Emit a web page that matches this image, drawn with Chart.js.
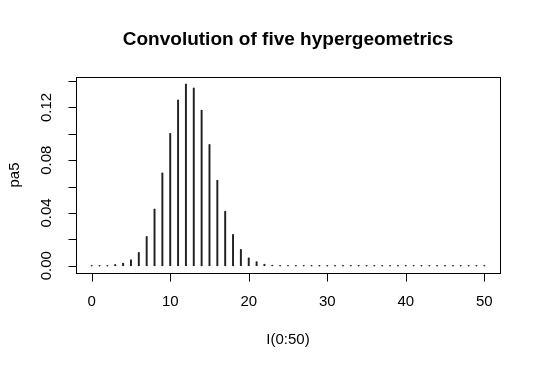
<!DOCTYPE html>
<html>
<head>
<meta charset="utf-8">
<script src="https://cdn.jsdelivr.net/npm/chart.js@4"></script>
<style>
  html, body { margin: 0; padding: 0; background: #fff; }
  canvas { display: block; }
</style>
</head>
<body>
<canvas id="c" width="540" height="368"></canvas>
<script>
// x = 0..50, pa5 values
const xValues = Array.from({length: 51}, (_, i) => i);
const pa5 = [
  0, 0, 0, 0.0007, 0.0018, 0.0043, 0.0099, 0.022, 0.0428, 0.0702,
  0.1001, 0.1255, 0.1376, 0.1346, 0.1178, 0.0917, 0.0646, 0.0411, 0.0236, 0.0122,
  0.0058, 0.0028, 0.001, 0.0003, 0, 0, 0, 0, 0, 0,
  0, 0, 0, 0, 0, 0, 0, 0, 0, 0,
  0, 0, 0, 0, 0, 0, 0, 0, 0, 0,
  0
];
const xTicks = [0, 10, 20, 30, 40, 50];
const yTicks = [0, 0.02, 0.04, 0.06, 0.08, 0.10, 0.12, 0.14];
const yTickLabels = ['0.00', '', '0.04', '', '0.08', '', '0.12', ''];

const chartTitle = 'Convolution of five hypergeometrics';
const xTitle = 'I(0:50)';
const yTitle = 'pa5';

const points = xValues.map((x, i) => ({x: x, y: pa5[i]}));

// R 風格的座標軸、外框與標題
const rAxes = {
  id: 'rAxes',
  afterDraw(chart) {
    const ctx = chart.ctx;
    const a = chart.chartArea;
    const xs = chart.scales.x, ys = chart.scales.y;
    ctx.save();
    ctx.strokeStyle = '#000';
    ctx.lineWidth = 1;
    ctx.strokeRect(Math.round(a.left) + 0.5, Math.round(a.top) + 0.5,
                   Math.round(a.right - a.left), Math.round(a.bottom - a.top));

    ctx.fillStyle = '#000';
    ctx.font = '15px "Liberation Sans", Arial, sans-serif';

    // x axis
    ctx.beginPath();
    const x0 = Math.round(xs.getPixelForValue(xTicks[0])) + 0.5;
    const x1 = Math.round(xs.getPixelForValue(xTicks[xTicks.length - 1])) + 0.5;
    const yb = Math.round(a.bottom) + 0.5;
    ctx.moveTo(x0, yb); ctx.lineTo(x1, yb);
    xTicks.forEach(t => {
      const px = Math.round(xs.getPixelForValue(t)) + 0.5;
      ctx.moveTo(px, yb); ctx.lineTo(px, yb + 8);
    });
    ctx.stroke();
    ctx.textAlign = 'center';
    ctx.textBaseline = 'middle';
    xTicks.forEach(t => {
      ctx.fillText(String(t), xs.getPixelForValue(t), a.bottom + 29);
    });

    // y axis
    ctx.beginPath();
    const xl = Math.round(a.left) + 0.5;
    const y0 = Math.round(ys.getPixelForValue(yTicks[0])) + 0.5;
    const y1 = Math.round(ys.getPixelForValue(yTicks[yTicks.length - 1])) + 0.5;
    ctx.moveTo(xl, y0); ctx.lineTo(xl, y1);
    yTicks.forEach(t => {
      const py = Math.round(ys.getPixelForValue(t)) + 0.5;
      ctx.moveTo(xl, py); ctx.lineTo(xl - 8, py);
    });
    ctx.stroke();
    yTicks.forEach((t, i) => {
      if (!yTickLabels[i]) return;
      ctx.save();
      ctx.translate(a.left - 29, ys.getPixelForValue(t));
      ctx.rotate(-Math.PI / 2);
      ctx.fillText(yTickLabels[i], 0, 0);
      ctx.restore();
    });

    // axis titles
    const cx = (a.left + a.right) / 2;
    ctx.fillText(xTitle, cx, a.bottom + 67);
    ctx.save();
    ctx.translate(15, (a.top + a.bottom) / 2);
    ctx.rotate(-Math.PI / 2);
    ctx.fillText(yTitle, 0, 0);
    ctx.restore();

    // main title
    ctx.font = 'bold 19px "Liberation Sans", Arial, sans-serif';
    ctx.fillText(chartTitle, cx, 40);
    ctx.restore();
  }
};

new Chart(document.getElementById('c'), {
  type: 'bar',
  data: {
    datasets: [{
      type: 'bar',
      data: points,
      backgroundColor: '#222',
      borderWidth: 0,
      barThickness: 1.3
    }, {
      type: 'line',
      data: points,
      showLine: false,
      pointRadius: 0.7,
      pointBorderWidth: 0,
      pointBackgroundColor: '#333'
    }]
  },
  options: {
    responsive: false,
    animation: false,
    layout: { padding: { left: 76, right: 40, top: 77, bottom: 95 } },
    scales: {
      x: { type: 'linear', min: -2, max: 52, offset: false, display: false },
      y: { min: -0.0055, max: 0.1431, display: false }
    },
    plugins: { legend: { display: false }, tooltip: { enabled: false } }
  },
  plugins: [rAxes]
});
</script>
</body>
</html>
